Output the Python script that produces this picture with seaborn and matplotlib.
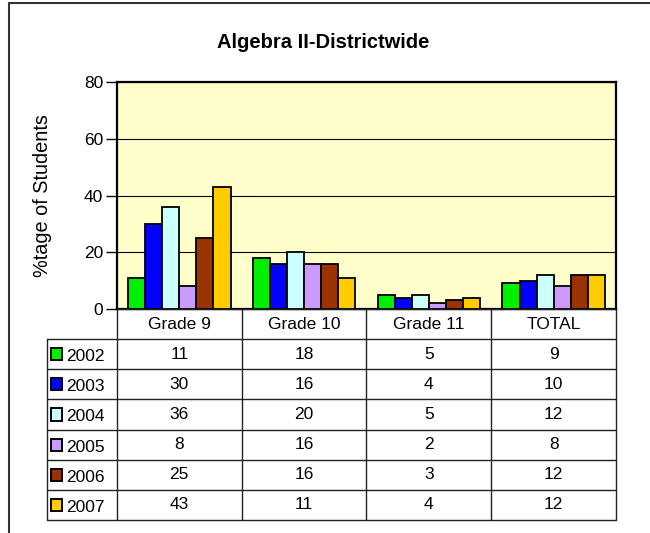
import numpy as np
import pandas as pd
import seaborn as sns
import matplotlib.pyplot as plt
from matplotlib.lines import Line2D
from matplotlib.patches import Rectangle

grades = ["Grade 9", "Grade 10", "Grade 11", "TOTAL"]
years = ["2002", "2003", "2004", "2005", "2006", "2007"]
v2002 = [11, 18, 5, 9]
v2003 = [30, 16, 4, 10]
v2004 = [36, 20, 5, 12]
v2005 = [8, 16, 2, 8]
v2006 = [25, 16, 3, 12]
v2007 = [43, 11, 4, 12]
colors = ["#00EE00", "#0000FF", "#CCFFFF", "#CC99FF", "#993300", "#FFCC00"]

series = [v2002, v2003, v2004, v2005, v2006, v2007]
rows = []
for yr, vals in zip(years, series):
    for g, v in zip(grades, vals):
        rows.append({"grade": g, "year": yr, "pct": v})
df = pd.DataFrame(rows)

sns.set_style("white")
plt.rcParams["font.family"] = ["Liberation Sans", "DejaVu Sans"]
plt.rcParams["text.color"] = "black"
plt.rcParams["axes.labelcolor"] = "black"
plt.rcParams["ytick.color"] = "black"

W, H = 650, 533
fig = plt.figure(figsize=(6.5, 5.33), dpi=100)

def fx(px):
    return px / W

def fy(py):
    return 1 - py / H

# chart area
ax = fig.add_axes([fx(117), fy(309), fx(616) - fx(117), fy(82) - fy(309)])
sns.barplot(data=df, x="grade", y="pct", hue="year", order=grades, hue_order=years,
            palette=colors, width=0.82, edgecolor="black", linewidth=1.3,
            saturation=1, ax=ax, zorder=3)
ax.legend_.remove()
ax.set_facecolor("#FFFFCC")
ax.set_ylim(0, 80)
ax.set_yticks([0, 20, 40, 60, 80])
ax.set_xlim(-0.5, 3.5)
ax.set_xticks([])
ax.set_xlabel("")
ax.set_ylabel("%tage of Students", fontsize=14.3, labelpad=23)
ax.tick_params(axis="y", labelsize=12.5, length=8, width=1, direction="out", left=True, pad=2)
ax.grid(axis="y", color="black", linewidth=0.8, zorder=0)
ax.set_axisbelow(True)
for s in ax.spines.values():
    s.set_color("black")
    s.set_linewidth(1.6)

fig.text(fx(323), fy(42), "Algebra II-Districtwide", ha="center", va="center",
         fontsize=14.5, fontweight="bold")

# data table under the chart
unit = 125.0
lab_w = 70 / unit
tx = fig.add_axes([fx(47), fy(520), fx(616) - fx(47), fy(309) - fy(520)])
tx.set_xlim(-lab_w, 4)
tx.set_ylim(7, 0)
tx.axis("off")
lc = "#222222"
for c in range(5):
    tx.plot([c, c], [0, 7], color=lc, lw=1, clip_on=False)
tx.plot([-lab_w, -lab_w], [1, 7], color=lc, lw=1, clip_on=False)
tx.plot([0, 4], [0, 0], color=lc, lw=1, clip_on=False)
for r in range(1, 8):
    tx.plot([-lab_w, 4], [r, r], color=lc, lw=1, clip_on=False)
for c, g in enumerate(grades):
    tx.text(c + 0.5, 0.5, g, ha="center", va="center", fontsize=12.5)
for r, (yr, vals, col) in enumerate(zip(years, series, colors)):
    yc = r + 1.5
    tx.add_patch(Rectangle((-lab_w + 4 / unit, yc - 0.2), 11 / unit, 0.4, facecolor=col,
                           edgecolor="black", lw=1.4))
    tx.text(-lab_w + 19 / unit, yc + 0.08, yr, ha="left", va="center", fontsize=12.5)
    for c, v in enumerate(vals):
        tx.text(c + 0.5, yc, str(v), ha="center", va="center", fontsize=12.5)

# outer frame
fig.add_artist(Line2D([fx(9), fx(9), 1.0], [0.0, fy(3), fy(3)], color="#333333", lw=1.5,
                      transform=fig.transFigure))

fig.savefig("out.png", dpi=100)
